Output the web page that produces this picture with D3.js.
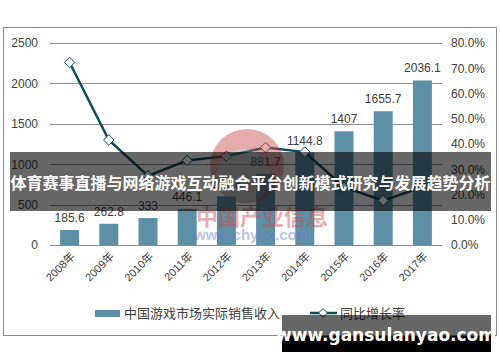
<!DOCTYPE html>
<html>
<head>
<meta charset="utf-8">
<script src="https://cdn.jsdelivr.net/npm/d3@7"></script>
<style>
  body { margin: 0; background: #fff; }
  text { font-family: "Liberation Sans", Arial, "Noto Sans CJK SC", sans-serif; }
</style>
</head>
<body>
<div id="chart"></div>
<script>
var years = ["2008年", "2009年", "2010年", "2011年", "2012年", "2013年", "2014年", "2015年", "2016年", "2017年"];
var revenue = [185.6, 262.8, 333, 446.1, 602.8, 881.7, 1144.8, 1407, 1655.7, 2036.1];
var growth = [72.3, 41.6, 27.4, 33.5, 35.2, 38.6, 36.8, 22.9, 17.6, 23.0];
var leftTicks = [0, 500, 1000, 1500, 2000, 2500];
var rightTicks = [0, 10, 20, 30, 40, 50, 60, 70, 80];

var svgWidth = 500, svgHeight = 362;
var margin = { top: 43, left: 50, right: 58, bottom: 117 };
var width = svgWidth - margin.left - margin.right;
var height = svgHeight - margin.top - margin.bottom;

var barColor = "#5d90a7";
var lineColor = "#0d4b5f";
var textColor = "#404040";

var svg = d3.select("#chart").append("svg")
  .attr("width", svgWidth)
  .attr("height", svgHeight);

// frame
svg.append("rect")
  .attr("x", 3.5).attr("y", 27.5)
  .attr("width", 493).attr("height", 308)
  .attr("fill", "none")
  .attr("stroke", "#8a8a8a");

var chartGroup = svg.append("g")
  .attr("transform", `translate(${margin.left}, ${margin.top})`);

var x = d3.scaleBand().domain(years).range([0, width]);
var yLeft = d3.scaleLinear().domain([0, 2500]).range([height, 0]);
var yRight = d3.scaleLinear().domain([0, 80]).range([height, 0]);

// gridlines
chartGroup.selectAll(".grid")
  .data(leftTicks)
  .enter().append("line")
  .attr("x1", 0).attr("x2", width)
  .attr("y1", d => Math.round(yLeft(d)) + 0.5)
  .attr("y2", d => Math.round(yLeft(d)) + 0.5)
  .attr("stroke", "#8c8c8c")
  .attr("stroke-width", 1);

// left axis
var leftAxis = d3.axisLeft(yLeft).tickValues(leftTicks).tickSize(0).tickPadding(12)
  .tickFormat(d => String(d));
var gl = chartGroup.append("g").call(leftAxis);
gl.select(".domain").remove();
gl.selectAll("text").attr("font-size", 12).attr("fill", textColor);

// right axis
var rightAxis = d3.axisRight(yRight).tickValues(rightTicks).tickSize(0).tickPadding(9)
  .tickFormat(d => d.toFixed(1) + "%");
var gr = chartGroup.append("g").attr("transform", `translate(${width}, 0)`).call(rightAxis);
gr.select(".domain").remove();
gr.selectAll("text").attr("font-size", 12).attr("fill", textColor);

// x axis labels
var bottomAxis = d3.axisBottom(x).tickSize(0).tickPadding(0);
var gb = chartGroup.append("g").attr("transform", `translate(0, ${height})`).call(bottomAxis);
gb.select(".domain").remove();
gb.selectAll("text")
  .attr("font-size", 11)
  .attr("fill", textColor)
  .attr("text-anchor", "end")
  .attr("dy", 0)
  .attr("transform", "translate(6, 12) rotate(-45)");

// bars
var barW = 19;
chartGroup.selectAll(".bar")
  .data(revenue)
  .enter().append("rect")
  .attr("x", (d, i) => x(years[i]) + x.bandwidth() / 2 - barW / 2)
  .attr("y", d => yLeft(d))
  .attr("width", barW)
  .attr("height", d => height - yLeft(d))
  .attr("fill", barColor);

chartGroup.selectAll(".barlabel")
  .data(revenue)
  .enter().append("text")
  .attr("x", (d, i) => x(years[i]) + x.bandwidth() / 2)
  .attr("y", d => yLeft(d) - 8)
  .attr("text-anchor", "middle")
  .attr("font-size", 12)
  .attr("fill", textColor)
  .text(d => d);

// watermark
var wm = svg.append("g").attr("opacity", 0.45);
wm.append("circle").attr("cx", 247).attr("cy", 166).attr("r", 37).attr("fill", "#c44a4a");
wm.append("circle").attr("cx", 243).attr("cy", 176).attr("r", 27).attr("fill", "#888");
wm.append("text").attr("x", 262).attr("y", 225).attr("text-anchor", "middle")
  .attr("font-size", 22).attr("font-weight", "bold").attr("fill", "#d04848")
  .style("font-family", "'Noto Sans CJK SC'").text("中国产业信息");
wm.append("text").attr("x", 252).attr("y", 240).attr("text-anchor", "middle")
  .attr("font-size", 15).attr("font-weight", "bold").attr("fill", "#6a7cc8")
  .text("www.chyxx.com");

// growth line
var line = d3.line()
  .x((d, i) => x(years[i]) + x.bandwidth() / 2)
  .y(d => yRight(d));

chartGroup.append("path")
  .datum(growth)
  .attr("d", line)
  .attr("fill", "none")
  .attr("stroke", lineColor)
  .attr("stroke-width", 2.5);

chartGroup.selectAll(".marker")
  .data(growth)
  .enter().append("path")
  .attr("d", d3.symbol().type(d3.symbolDiamond2).size(70))
  .attr("transform", (d, i) => `translate(${x(years[i]) + x.bandwidth() / 2}, ${yRight(d)})`)
  .attr("fill", "#fff")
  .attr("stroke", lineColor)
  .attr("stroke-width", 1);

// legend
var legend = svg.append("g");
legend.append("rect").attr("x", 95).attr("y", 310).attr("width", 25).attr("height", 7).attr("fill", barColor);
legend.append("text").attr("x", 124).attr("y", 318).attr("font-size", 13).attr("fill", textColor)
  .text("中国游戏市场实际销售收入");
legend.append("line").attr("x1", 310).attr("x2", 337).attr("y1", 313).attr("y2", 313)
  .attr("stroke", lineColor).attr("stroke-width", 2.5);
legend.append("path").attr("d", d3.symbol().type(d3.symbolDiamond2).size(50))
  .attr("transform", "translate(323, 313)")
  .attr("fill", "#fff").attr("stroke", lineColor);
legend.append("text").attr("x", 340).attr("y", 318).attr("font-size", 13).attr("fill", textColor)
  .text("同比增长率");

// title banner
svg.append("rect").attr("x", 10).attr("y", 152).attr("width", 481).attr("height", 59)
  .attr("fill", "rgba(0,0,0,0.6)");
svg.append("text").attr("x", 250.5).attr("y", 189).attr("text-anchor", "middle")
  .attr("font-size", 16).attr("font-weight", "bold").attr("fill", "#fff")
  .style("font-family", "'Noto Sans CJK SC'")
  .text("体育赛事直播与网络游戏互动融合平台创新模式研究与发展趋势分析");

// site box
svg.append("rect").attr("x", 282).attr("y", 315).attr("width", 209).attr("height", 21)
  .attr("fill", "rgba(0,0,0,0.6)");
svg.append("rect").attr("x", 282).attr("y", 336).attr("width", 209).attr("height", 16)
  .attr("fill", "#000");
svg.append("text").attr("x", 386).attr("y", 341).attr("text-anchor", "middle")
  .attr("font-size", 17).attr("font-weight", "bold").attr("fill", "#fff")
  .style("font-family", "'DejaVu Sans'")
  .text("www.gansulanyao.com");
</script>
</body>
</html>
